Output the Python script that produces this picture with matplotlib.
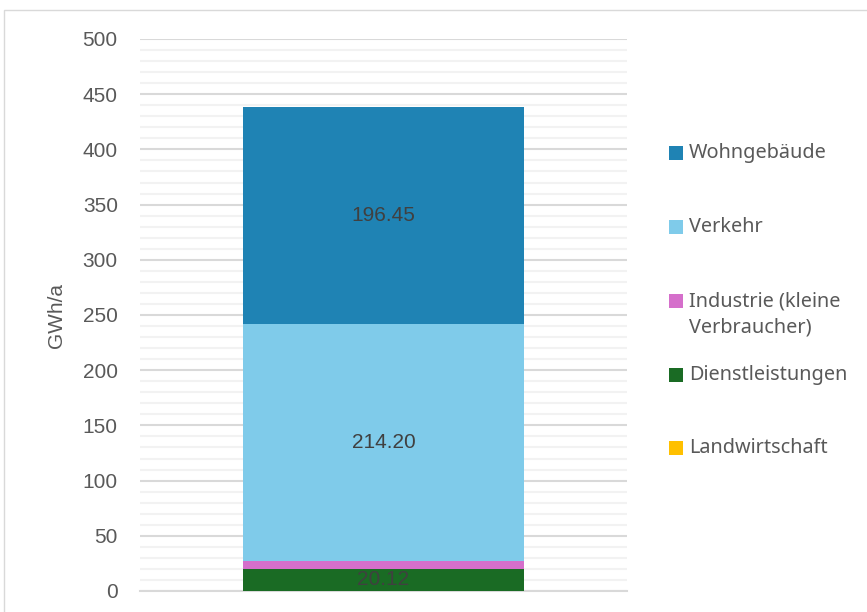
import matplotlib
matplotlib.use("Agg")
import matplotlib.pyplot as plt
from matplotlib.patches import Rectangle
import numpy as np

categories = ["Gesamt"]
series_names = ["Landwirtschaft", "Dienstleistungen", "Industrie (kleine\nVerbraucher)", "Verkehr", "Wohngebäude"]
series_values = [0.0, 20.12, 7.2, 214.20, 196.45]
series_colors = ["#FFC000", "#1A6B24", "#D56FCB", "#7FCBEA", "#1F83B4"]
label_series = {"Dienstleistungen": "20.12", "Verkehr": "214.20", "Wohngebäude": "196.45"}
y_ticks = list(range(0, 501, 50))

W, H = 867, 612
fig = plt.figure(figsize=(W / 100, H / 100), dpi=100)
fig.patch.set_facecolor("white")

# outer chart border
fig.patches.append(Rectangle((4 / W, -0.1), 1.2, 1 - 10 / H + 0.1, transform=fig.transFigure,
                             fill=False, edgecolor="#d9d9d9", linewidth=1.0))

ax = fig.add_axes([140 / W, 21 / H, 487 / W, 552 / H])
ax.set_ylim(0, 500)
ax.set_xlim(-0.5, 0.5)
ax.set_yticks(y_ticks)
ax.set_yticks(np.arange(0, 501, 10), minor=True)
ax.yaxis.grid(True, which="minor", color="#f2f2f2", linewidth=1.5)
ax.yaxis.grid(True, which="major", color="#d9d9d9", linewidth=1.5)
ax.set_axisbelow(True)
for s in ["top", "right", "left"]:
    ax.spines[s].set_visible(False)
ax.spines["bottom"].set_color("#d9d9d9")
ax.spines["bottom"].set_linewidth(1.5)
ax.set_xticks([])
ax.tick_params(axis="y", which="both", length=0, pad=16, labelsize=15, labelcolor="#595959")
for lab in ax.get_yticklabels():
    lab.set_fontfamily("Liberation Sans")
ax.set_ylabel("GWh/a", fontsize=15, color="#595959", family="Liberation Sans", labelpad=12)

bottom = 0.0
x = np.arange(len(categories))
for name, val, col in zip(series_names, series_values, series_colors):
    bars = ax.bar(x, [val], bottom=[bottom], width=0.575, color=col, edgecolor="none", zorder=3)
    key = name.split("\n")[0]
    if key in label_series:
        ax.text(x[0], bottom + val / 2, label_series[key], ha="center", va="center",
                fontsize=15, color="#404040", family="Liberation Sans", zorder=4)
    bottom += val

# legend (top entry = last series)
legend_y = [153, 227, 301, 375, 448]
for name, col, yy in zip(series_names[::-1], series_colors[::-1], legend_y):
    fig.patches.append(Rectangle((669 / W, 1 - (yy + 7) / H), 14 / W, 14 / H,
                                 transform=fig.transFigure, facecolor=col, edgecolor="none"))
    fig.text(689 / W, 1 - (yy - 10) / H, name, ha="left", va="top", fontsize=14.3,
             color="#595959", family="Noto Sans", linespacing=1.4)

fig.savefig("out.png", dpi=100)
